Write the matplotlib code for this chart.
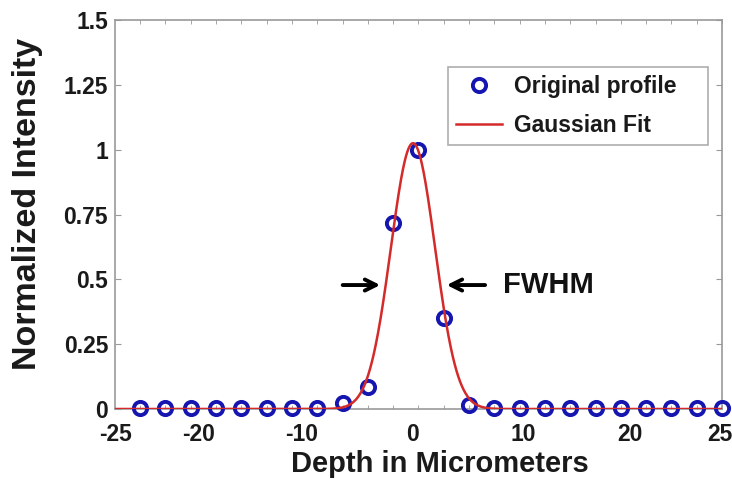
import numpy as np
import matplotlib
matplotlib.use("Agg")
import matplotlib.pyplot as plt

plt.rcParams['font.family'] = ['Liberation Sans', 'DejaVu Sans']
plt.rcParams['font.weight'] = 'bold'

# --- data ---
sample_index = np.arange(-11, 13)
sample_step = 2.084  # micrometers between samples
depth = sample_index * sample_step
intensity = [0.004, 0.004, 0.004, 0.004, 0.004, 0.004, 0.005, 0.005, 0.023, 0.085,
             0.717, 0.999, 0.351, 0.015, 0.005, 0.005, 0.005, 0.004, 0.004, 0.004,
             0.004, 0.004, 0.004, 0.004]
# Gaussian fit parameters
fit_amp = 1.025
fit_mu = -0.45
fit_sigma = 1.82

xtick_pos = [-25, -18.1, -9.6, -0.45, 8.6, 17.4, 24.8]
xtick_labels = ['-25', '-20', '-10', '0', '10', '20', '25']
ytick_pos = [0, 0.25, 0.5, 0.75, 1, 1.25, 1.5]
ytick_labels = ['0', '0.25', '0.5', '0.75', '1', '1.25', '1.5']

fig = plt.figure(figsize=(7.32, 4.79), dpi=100)
ax = fig.add_axes([115/732, 1-409/479, (722-115)/732, (409-20)/479])

xf = np.linspace(-25, 25, 1000)
yf = fit_amp * np.exp(-(xf - fit_mu)**2 / (2 * fit_sigma**2))

ax.plot(depth, intensity, 'o', mfc='none', mec='#1515B0', mew=2.8, ms=9.5,
        label='Original profile', zorder=3, clip_on=False)
ax.plot(xf, yf, '-', color='#D42A2A', lw=1.8, label='Gaussian Fit', zorder=4)

ax.set_xlim(-25, 25)
ax.set_ylim(0, 1.5)

ax.set_xticks(xtick_pos)
ax.set_xticklabels(xtick_labels)
ax.set_xticks(depth, minor=True)
ax.set_yticks(ytick_pos)
ax.set_yticklabels(ytick_labels)
ax.tick_params(axis='x', which='major', length=0, labelsize=16.5, pad=10, colors='#1a1a1a')
ax.tick_params(axis='x', which='minor', length=3, direction='in', top=True, bottom=True, color='#999999')
ax.tick_params(axis='y', which='major', length=4, direction='in', left=True, right=True,
               labelsize=16.5, pad=5, color='#999999', labelcolor='#1a1a1a')
for s in ax.spines.values():
    s.set_color('#999999')
    s.set_linewidth(1.2)

ax.set_xlabel('Depth in Micrometers', fontsize=21, fontweight='bold', color='#1a1a1a')
ax.xaxis.set_label_coords((440 - 115) / 607, -(450 - 409) / 389)
ax.set_ylabel('Normalized Intensity', fontsize=24.5, fontweight='bold', color='#1a1a1a')
ax.yaxis.set_label_coords(-(115 - 43) / 607, (409 - 204) / 389)

ax.annotate('', xy=(-2.92, 0.478), xytext=(-6.47, 0.478),
            arrowprops=dict(arrowstyle='->', color='black', lw=2.8, mutation_scale=20))
ax.annotate('', xy=(2.1, 0.478), xytext=(5.72, 0.478),
            arrowprops=dict(arrowstyle='->', color='black', lw=2.8, mutation_scale=20))
ax.text(7.0, 0.478, 'FWHM', fontsize=21, fontweight='bold', color='#111111',
        ha='left', va='center')

leg = ax.legend(loc='upper left', mode='expand', fontsize=16.5, frameon=True, fancybox=False,
                edgecolor='#999999', handlelength=2.0, handletextpad=0.55,
                borderpad=0.35, labelspacing=0.7, borderaxespad=0,
                bbox_to_anchor=(448/732, 1 - 149/479, 260/732, 82/479),
                bbox_transform=fig.transFigure)
leg.get_frame().set_linewidth(1.2)
for t in leg.get_texts():
    t.set_color('#1a1a1a')

fig.savefig('out.png', dpi=100)
